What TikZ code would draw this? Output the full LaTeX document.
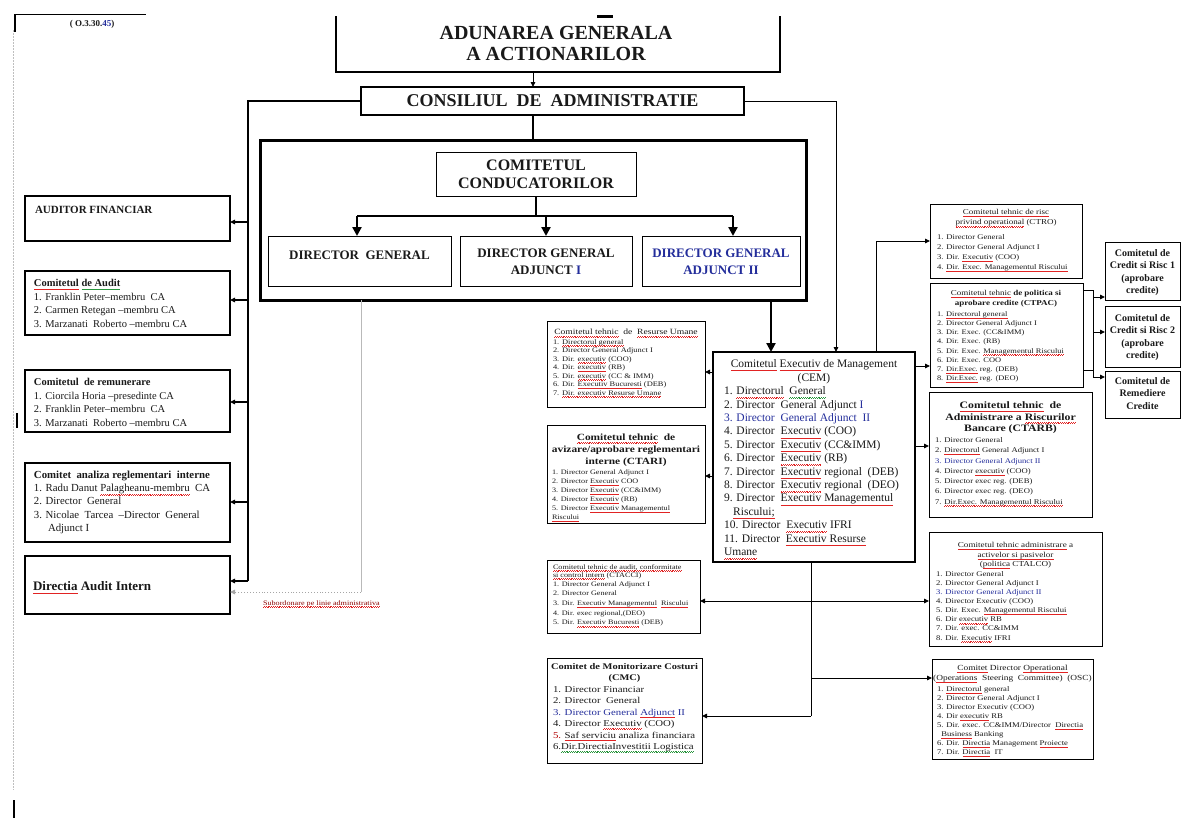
\documentclass[tikz,border=0pt]{standalone}
\usepackage{fontspec}
\setmainfont{Liberation Serif}
\newfontfamily\wide[FakeStretch=1.2]{Liberation Serif}
\usetikzlibrary{arrows.meta}
\definecolor{ink}{RGB}{25,25,25}
\definecolor{dgblue}{RGB}{35,45,155}
\definecolor{sqred}{RGB}{225,35,35}
\definecolor{sqgreen}{RGB}{40,150,60}
\newsavebox\sqbox
\newcommand\sqline[2]{\leavevmode\sbox\sqbox{#2}\rlap{\usebox\sqbox}\raisebox{-0.3em}{\textcolor{#1}{\xleaders\hbox{\rule{0.9pt}{0.45pt}\rule[0.45pt]{0.9pt}{0.45pt}}\hskip\wd\sqbox}}}
\newcommand\sqw[1]{\sqline{sqred}{#1}}
\newcommand\sqg[1]{\sqline{sqgreen}{#1}}
\newcommand\fsz[2]{\fontsize{#1}{#2}\selectfont}
\begin{document}
\begin{tikzpicture}[x=1pt,y=-1pt,
  every node/.style={inner sep=0pt, outer sep=0pt, text=ink},
  bxs/.style={draw, line width=0.9pt, anchor=north west},
  bxm/.style={draw, line width=1.4pt, anchor=north west},
  bxk/.style={draw, line width=2pt, anchor=north west},
  tleft/.style={anchor=north west, align=left},
  tcent/.style={anchor=north, align=center},
  lnn/.style={line width=0.9pt},
  arr/.style={line width=0.9pt, -{Triangle[length=5pt,width=4.5pt]}},
  lnk/.style={line width=2.6pt},
  ark/.style={line width=2.6pt, -{Triangle[length=9pt,width=9pt]}},
  sz/.style 2 args={minimum width=#1pt, minimum height=#2pt}]
\fill[white] (0,0) rectangle (1181,822);
\useasboundingbox (0,0) rectangle (1181,822);

% page marks
\draw[gray!50, dash pattern=on 1.5pt off 1.5pt, line width=0.8pt] (13,30) -- (13,790);
\draw[line width=0.8pt] (14,14) -- (146,14);
\draw[line width=2.5pt] (15,14) -- (15,32);
\draw[line width=2.5pt] (17,413) -- (17,428);
\draw[line width=2.5pt] (14,800) -- (14,818);
\node[font=\bfseries\fsz{9}{10}, anchor=base] (code) at (92,26) {( O.3.30.\textcolor{dgblue}{45})};

% coordinates
\coordinate (xa) at (533,0);
\coordinate (xb) at (771,0);
\coordinate (xc) at (836,0);
\coordinate (xd) at (876,0);
\coordinate (xe) at (811,0);
\coordinate (gx) at (361,592);

% AGA
\node[sz={444}{56}, anchor=north west] (aga) at (336,16) {};
\draw[line width=1.3pt] (aga.north west) -- (aga.south west) -- (aga.south east) -- (aga.north east);
\draw[line width=3pt] (597,16) -- (613,16);
\node[tcent, font=\bfseries\fsz{20}{21}] (aga-t) at (556,25) {\strut ADUNAREA GENERALA\\A ACTIONARILOR};

% CA
\node[bxm, sz={383}{28}, font=\bfseries\fsz{18}{20}] (ca0) at (361,87) {CONSILIUL \ DE \ ADMINISTRATIE};
\draw[arr] (aga.south -| xa) -- (ca0.north -| xa);

% big box
\node[draw, line width=3pt, anchor=north west, sz={546}{160}] (big) at (260,140) {};
\draw[lnk] (ca0.south -| xa) -- (big.north -| xa);
\node[bxs, line width=1pt, sz={200}{44}, align=center, font=\bfseries\fsz{16}{18}] (cc) at (436,152) {COMITETUL\\CONDUCATORILOR};

\node[bxs, line width=1pt, sz={183}{50}] (dg) at (268,236) {};
\node[font=\bfseries\fsz{13}{16}, anchor=base] (dg-t) at (359.5,259.5) {DIRECTOR \ GENERAL};
\node[bxs, line width=1pt, sz={172}{50}] (dga1) at (460,236) {};
\node[tcent, font=\bfseries\fsz{13}{17}] (dga1-t) at (546,245.4) {\strut DIRECTOR GENERAL\\ADJUNCT \textcolor{dgblue}{I}};
\node[bxs, line width=1pt, sz={158}{50}] (dga2) at (642,236) {};
\node[tcent, font=\bfseries\fsz{13}{17}, text=dgblue] (dga2-t) at (721,245.4) {\strut DIRECTOR GENERAL\\ADJUNCT II};

\coordinate (busl) at (357,216);
\coordinate (busm) at (546,216);
\coordinate (busr) at (733,216);
\draw[lnk] (cc.south) -- (cc.south |- busl);
\draw[lnk] (busl) -- (busr);
\draw[ark] (busl) -- (dg.north -| busl);
\draw[ark] (busm) -- (dga1.north -| busm);
\draw[ark] (busr) -- (dga2.north -| busr);

% left column
\node[bxk, sz={205}{45}] (af) at (25,196) {};
\node[anchor=base west, font=\bfseries\fsz{11}{13}] (af-t) at (35,213) {AUDITOR FINANCIAR};
\node[bxk, sz={205}{64}] (cam) at (25,271) {};
\node[tleft, font=\fsz{10.5}{13.7}] (cam-t) at (34,277) {\strut\textbf{\sqw{Comitetul} \sqg{de Audit}}\\1. Franklin Peter--membru \ CA\\2. Carmen Retegan --membru CA\\3. Marzanati \ Roberto --membru CA};
\node[bxk, sz={205}{62}] (crem) at (25,370) {};
\node[tleft, font=\fsz{10.5}{13.7}] (crem-t) at (34,376) {\strut\textbf{Comitetul \ de remunerare}\\1. Ciorcila Horia --presedinte CA\\2. Franklin Peter--membru \ CA\\3. Marzanati \ Roberto --membru CA};
\node[bxk, sz={205}{79}] (car) at (25,463) {};
\node[tleft, font=\fsz{10.8}{13.2}] (car-t) at (34,469.3) {\strut\textbf{Comitet \ analiza reglementari \ interne}\\1. Radu Danut \sqw{Palagheanu-membru} \ CA\\2. Director \ General\\3. Nicolae \ Tarcea \ --Director \ General\\\hspace*{1.3em}Adjunct I};
\node[bxm, line width=1.2pt, sz={205}{58}] (dai) at (25,556) {};
\node[anchor=base west, font=\bfseries\fsz{13}{15}] (dai-t) at (33,590) {\sqw{Directia} Audit Intern};

\coordinate (tr5) at (248,581);
\draw[lnk, line join=miter] (ca0.west) -| (tr5);
\foreach \n/\yy in {af/222, cam/300, crem/402, car/502, dai/581}{
  \coordinate (tr\n) at (248,\yy);
  \draw[arr, line width=1.2pt] (tr\n) -- (\n.east |- tr\n);
}
\draw[gray!55, line width=0.9pt] (big.south -| gx) -- (gx);
\draw[gray!70, line width=0.9pt, dotted, -{Triangle[length=5pt,width=4.5pt]}] (gx) -- (dai.east |- gx);
\node[anchor=base west, font=\wide\fsz{6.8}{8}, text=red!55!black] (sub) at (263,605) {\sqw{Subordonare pe linie administrativa}};

% CEM
\node[draw, line width=2.4pt, anchor=north west, sz={202}{210}] (cem) at (713,352) {};
\node[tcent, font=\fsz{11.5}{14}] (cem-h) at (814,357.3) {\strut\sqw{Comitetul} \sqw{Executiv} de Management\\(CEM)};
\node[tleft, font=\fsz{11.5}{13.4}] (cem-t) at (724,385.4) {\strut 1. \sqw{Directorul} \ \sqg{General}\\
2. Director \ General Adjunct \textcolor{dgblue}{I}\\
\textcolor{dgblue}{3. Director \ General Adjunct \ II}\\
4. Director \ \sqw{Executiv} (COO)\\
5. Director \ \sqw{Executiv} (CC\&IMM)\\
6. Director \ \sqw{Executiv} (RB)\\
7. Director \ \sqw{Executiv} regional \ (DEB)\\
8. Director \ \sqw{Executiv} regional \ (DEO)\\
9. Director \ \sqw{Executiv Managementul}\\
\hspace*{0.8em}\sqw{Riscului;}\\
10. Director \ \sqw{Executiv} IFRI\\
11. Director \ \sqw{Executiv Resurse}\\
\sqw{Umane}};

\draw[ark] (big.south -| xb) -- (cem.north -| xb);
\draw[arr] (ca0.east) -| (cem.north -| xc);

% middle column
\node[bxs, sz={158}{86}] (hr) at (547,321) {};
\node[anchor=base, font=\wide\fsz{8}{9}] (hr-h) at (626,334.6) {\sqw{Comitetul tehnic} \ de \ \sqw{Resurse Umane}};
\node[tleft, font=\wide\fsz{7}{8.5}] (hr-t) at (553,338.3) {\strut 1. \sqw{Directorul general}\\2. Director General Adjunct I\\3. Dir. \sqw{executiv} (COO)\\4. Dir. \sqw{executiv} (RB)\\5. Dir. \sqw{executiv} (CC \& IMM)\\6. Dir. \sqw{Executiv Bucuresti} (DEB)\\7. \sqw{Dir. executiv Resurse Umane}};

\node[bxs, sz={158}{98}] (ctari) at (547,425) {};
\node[tcent, font=\wide\bfseries\fsz{9.5}{12}] (ctari-h) at (626,432) {\strut\sqw{Comitetul tehnic} \ de\\avizare/aprobare reglementari\\interne (CTARI)};
\node[tleft, font=\wide\fsz{6.8}{9}] (ctari-t) at (552,468.4) {\strut 1. Director General Adjunct I\\2. Director \sqw{Executiv} COO\\3. Director \sqw{Executiv} (CC\&IMM)\\4. Director \sqw{Executiv} (RB)\\5. Director \sqw{Executiv Managementul}\\\sqw{Riscului}};

\node[bxs, sz={153}{73}] (ctacci) at (547,560) {};
\node[tleft, font=\wide\fsz{6.8}{8}] (ctacci-h) at (553,563.6) {\strut\sqw{Comitetul tehnic de audit, conformitate}\\\sqw{si control intern} (CTACCI)};
\node[tleft, font=\wide\fsz{6.8}{9.7}] (ctacci-t) at (553,579.4) {\strut 1. Director General Adjunct I\\2. Director General\\3. Dir. \sqw{Executiv Managementul} \ \sqw{Riscului}\\4. Dir. exec regional,(DEO)\\5. Dir. \sqw{Executiv Bucuresti} (DEB)};

\node[bxs, sz={155}{105}] (cmc) at (547,658) {};
\node[tcent, font=\wide\bfseries\fsz{8.7}{11}] (cmc-h) at (624.5,661.3) {\strut Comitet de Monitorizare Costuri\\(CMC)};
\node[tleft, font=\wide\fsz{9}{11.5}] (cmc-t) at (553,684) {\strut 1. Director Financiar\\2. Director \ General\\\textcolor{dgblue}{3. Director General \sqw{Adjunct} II}\\4. Director \sqw{Executiv} (COO)\\\textcolor{red!70!black}{5.} \sqw{Saf serviciu} analiza financiara\\6.\sqg{Dir.DirectiaInvestitii Logistica}};

% right column
\node[bxs, sz={152}{74}] (ctro) at (930,204) {};
\node[tcent, font=\wide\fsz{7.5}{10.5}] (ctro-h) at (1006,207.1) {\strut\sqw{Comitetul tehnic de risc}\\\sqw{privind operational} (CTRO)};
\node[tleft, font=\wide\fsz{7.2}{10}] (ctro-t) at (937,232.4) {\strut 1. Director General\\2. Director General Adjunct I\\3. Dir. \sqw{Executiv} (COO)\\4. \sqw{Dir. Exec. Managementul Riscului}};

\node[bxs, sz={153}{104}] (ctpac) at (930,283) {};
\node[tcent, font=\wide\fsz{7.5}{10}] (ctpac-h) at (1006,288.5) {\strut\sqw{Comitetul tehnic} \textbf{de politica si}\\\textbf{aprobare credite (CTPAC)}};
\node[tleft, font=\wide\fsz{7}{9.2}] (ctpac-t) at (937,309.9) {\strut 1. \sqw{Directorul general}\\2. Director General Adjunct I\\3. Dir. Exec. (CC\&IMM)\\4. Dir. Exec. (RB)\\5. Dir. Exec. \sqw{Managementul Riscului}\\6. Dir. Exec. COO\\7. \sqw{Dir.Exec.} reg. (DEB)\\8. \sqw{Dir.Exec.} reg. (DEO)};

\node[bxs, sz={163}{125}] (ctarb) at (929,392) {};
\node[tcent, font=\wide\bfseries\fsz{9.8}{11.5}] (ctarb-h) at (1010.5,400.5) {\strut\sqw{Comitetul tehnic} \ de\\Administrare a \sqw{Riscurilor}\\Bancare (CTARB)};
\node[tleft, font=\wide\fsz{7.2}{10.3}] (ctarb-t) at (935,435.2) {\strut 1. Director General\\2. \sqw{Directorul} General Adjunct I\\\textcolor{dgblue}{3. Director General Adjunct II}\\4. Director \sqw{executiv} (COO)\\5. Director exec reg. (DEB)\\6. Director exec reg. (DEO)\\7. \sqw{Dir.Exec. Managementul Riscului}};

\node[bxs, sz={173}{114}] (ctalco) at (929,532) {};
\node[tcent, font=\wide\fsz{7.6}{9.5}] (ctalco-h) at (1015.5,541) {\strut\sqw{Comitetul tehnic administrare} a\\\sqw{activelor si pasivelor}\\(\sqw{politica} CTALCO)};
\node[tleft, font=\wide\fsz{7.2}{9.1}] (ctalco-t) at (936,570) {\strut 1. Director General\\2. Director General Adjunct I\\\textcolor{dgblue}{3. Director General Adjunct II}\\4. Director Executiv (COO)\\5. Dir. Exec. \sqw{Managementul Riscului}\\6. Dir \sqw{executiv} RB\\7. Dir. exec. CC\&IMM\\8. Dir. \sqw{Executiv} IFRI};

\node[bxs, sz={161}{100}] (osc) at (932,659) {};
\node[tcent, font=\wide\fsz{7.8}{10}] (osc-h) at (1012.5,663.6) {\strut\sqw{Comitet} Director \sqw{Operational}\\(\sqw{Operations} \ Steering \ Committee) \ (OSC)};
\node[tleft, font=\wide\fsz{7.2}{9}] (osc-t) at (937,685.1) {\strut 1. \sqw{Directorul} general\\2. Director General Adjunct I\\3. Director Executiv (COO)\\4. Dir \sqw{executiv} RB\\5. Dir. exec. CC\&IMM/Director \ \sqw{Directia}\\\hspace*{0.6em}\sqw{Business} Banking\\6. Dir. \sqw{Directia} Management \sqw{Proiecte}\\7. Dir. \sqw{Directia} \ IT};

\node[bxs, sz={75}{58}] (cr1) at (1105,242) {};
\node[tcent, font=\bfseries\fsz{10}{12.5}] (cr1-t) at (1142.5,247.6) {\strut Comitetul de\\Credit si Risc 1\\(aprobare\\credite)};
\node[bxs, sz={75}{61}] (cr2) at (1105,306) {};
\node[tcent, font=\bfseries\fsz{10}{12.5}] (cr2-t) at (1142.5,312.5) {\strut Comitetul de\\Credit si Risc 2\\(aprobare\\credite)};
\node[bxs, sz={75}{47}] (rem) at (1105,371) {};
\node[tcent, font=\bfseries\fsz{10}{12.5}] (rem-t) at (1142.5,375.5) {\strut Comitetul de\\Remediere\\Credite};

% CEM connectors
\coordinate (y1) at (0,366);
\coordinate (y2) at (0,446);
\coordinate (yh) at (0,372);
\coordinate (yi) at (0,476);
\coordinate (ya) at (0,601);
\coordinate (yo) at (0,678);
\coordinate (yk) at (0,716);
\draw[arr] (cem.north -| xd) |- (ctro.west);
\draw[arr] (cem.east |- y1) -- (ctpac.west |- y1);
\draw[arr] (cem.east |- y2) -- (ctarb.west |- y2);
\draw[arr] (cem.west |- yh) -- (hr.east |- yh);
\draw[arr] (cem.west |- yi) -- (ctari.east |- yi);
\draw[lnn] (cem.south -| xe) -- (xe |- yk);
\draw[arr] (xe |- yk) -- (cmc.east |- yk);
\draw[arr] (xe |- ya) -- (ctacci.east |- ya);
\draw[arr] (xe |- ya) -- (ctalco.west |- ya);
\draw[arr] (xe |- yo) -- (osc.west |- yo);

% CTPAC to credit committees
\coordinate (p1) at (1093,290);
\coordinate (p2) at (1093,297);
\coordinate (p3) at (1093,332);
\coordinate (p4) at (1093,370);
\coordinate (p5) at (1093,377);
\draw[lnn] (ctpac.east |- p1) -- (p1) -- (p5);
\draw[lnn] (ctpac.east |- p4) -- (p4);
\draw[arr] (p2) -- (cr1.west |- p2);
\draw[arr] (p3) -- (cr2.west |- p3);
\draw[arr] (p5) -- (rem.west |- p5);
\end{tikzpicture}
\end{document}
